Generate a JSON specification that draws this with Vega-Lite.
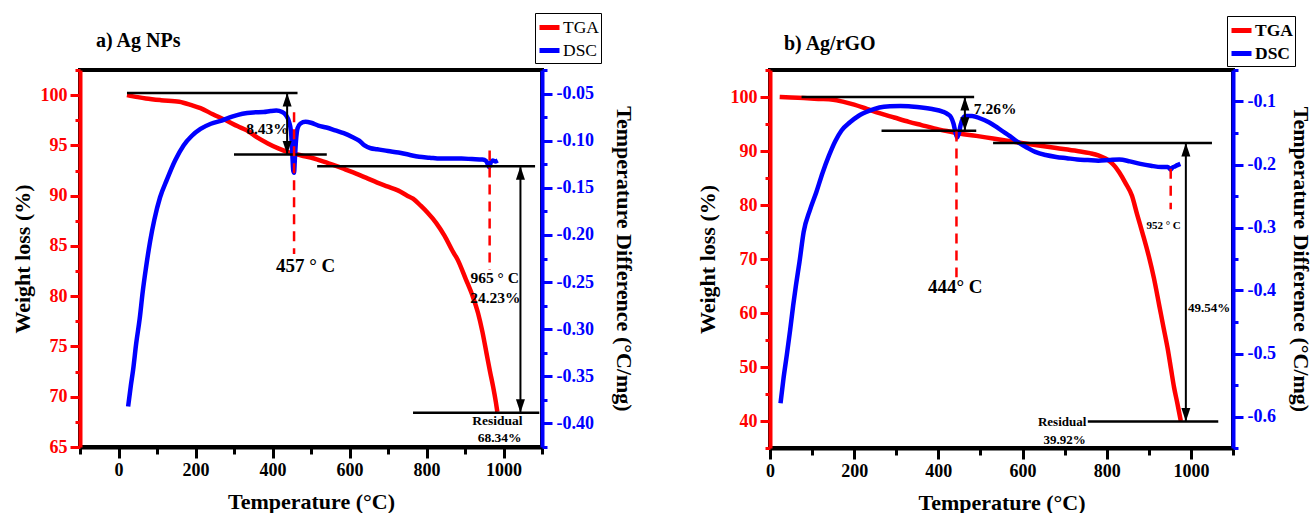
{
  "$schema": "https://vega.github.io/schema/vega-lite/v6.json",
  "padding": {"left": 9, "top": 10, "right": 0, "bottom": 5},
  "background": "white",
  "datasets": {
    "tga_a": [
      {"t":22,"w":100},{"t":50,"w":99.8},{"t":71,"w":99.67},{"t":110,"w":99.5},{"t":158,"w":99.35},{"t":190,"w":99.0},{"t":213,"w":98.7},{"t":245,"w":98.1},{"t":279,"w":97.5},{"t":310,"w":96.9},{"t":333,"w":96.5},{"t":360,"w":95.8},{"t":388,"w":95.2},{"t":415,"w":94.7},{"t":443,"w":94.3},{"t":475,"w":94.0},{"t":508,"w":93.7},{"t":535,"w":93.35},{"t":563,"w":93.0},{"t":590,"w":92.6},{"t":617,"w":92.2},{"t":645,"w":91.75},{"t":672,"w":91.3},{"t":700,"w":90.9},{"t":727,"w":90.5},{"t":750,"w":90.0},{"t":765,"w":89.7},{"t":785,"w":89.0},{"t":803,"w":88.3},{"t":825,"w":87.3},{"t":847,"w":86.0},{"t":869,"w":84.4},{"t":880,"w":83.7},{"t":902,"w":81.7},{"t":920,"w":80.0},{"t":934,"w":78.3},{"t":945,"w":76.5},{"t":956,"w":74.3},{"t":965,"w":72.5},{"t":973,"w":71.0},{"t":980,"w":69.5},{"t":984,"w":68.5}
    ],
    "dsc_a": [
      {"t":25,"d":-0.382},{"t":32,"d":-0.36},{"t":38,"d":-0.343},{"t":46,"d":-0.315},{"t":55,"d":-0.289},{"t":63,"d":-0.26},{"t":71,"d":-0.236},{"t":82,"d":-0.207},{"t":93,"d":-0.184},{"t":108,"d":-0.16},{"t":126,"d":-0.141},{"t":147,"d":-0.121},{"t":169,"d":-0.105},{"t":190,"d":-0.095},{"t":213,"d":-0.0875},{"t":240,"d":-0.082},{"t":268,"d":-0.0786},{"t":295,"d":-0.0745},{"t":322,"d":-0.0714},{"t":350,"d":-0.070},{"t":377,"d":-0.0696},{"t":395,"d":-0.0685},{"t":410,"d":-0.068},{"t":425,"d":-0.0695},{"t":435,"d":-0.073},{"t":443,"d":-0.080},{"t":448,"d":-0.090},{"t":451,"d":-0.110},{"t":454,"d":-0.132},{"t":456,"d":-0.134},{"t":458,"d":-0.120},{"t":461,"d":-0.100},{"t":465,"d":-0.087},{"t":472,"d":-0.082},{"t":486,"d":-0.080},{"t":500,"d":-0.081},{"t":519,"d":-0.084},{"t":540,"d":-0.086},{"t":563,"d":-0.089},{"t":585,"d":-0.092},{"t":607,"d":-0.096},{"t":625,"d":-0.100},{"t":639,"d":-0.105},{"t":655,"d":-0.108},{"t":672,"d":-0.109},{"t":700,"d":-0.111},{"t":727,"d":-0.1125},{"t":755,"d":-0.115},{"t":781,"d":-0.117},{"t":808,"d":-0.118},{"t":836,"d":-0.119},{"t":863,"d":-0.119},{"t":891,"d":-0.119},{"t":918,"d":-0.1195},{"t":945,"d":-0.120},{"t":955,"d":-0.1215},{"t":960,"d":-0.126},{"t":963,"d":-0.128},{"t":967,"d":-0.123},{"t":972,"d":-0.121},{"t":978,"d":-0.122},{"t":985,"d":-0.121}
    ],
    "hl_a": [{"t1":22,"t2":465,"w":100.2},{"t1":300,"t2":541,"w":94.1},{"t1":516,"t2":1082,"w":92.93},{"t1":765,"t2":1093,"w":68.4}],
    "arr_a": [{"t":438,"top":100.2,"bottom":94.1},{"t":1044,"top":92.93,"bottom":68.4}],
    "dash_a": [{"t":456,"top":98.3,"bottom":84.2},{"t":964,"top":94.5,"bottom":82.6}],
    "txt_a": [
      {"t":486,"w":83.0,"label":"457 ° C","kind":"big"},
      {"t":387,"w":96.6,"label":"8.43%","kind":"mid"},
      {"t":977,"w":81.8,"label":"965 ° C","kind":"mid"},
      {"t":979,"w":79.8,"label":"24.23%","kind":"mid"},
      {"t":984,"w":67.6,"label":"Residual","kind":"small"},
      {"t":990,"w":65.9,"label":"68.34%","kind":"small"}
    ],
    "tga_b": [
      {"t":23,"w":100},{"t":50,"w":99.9},{"t":80,"w":99.8},{"t":115,"w":99.65},{"t":150,"w":99.5},{"t":175,"w":99.1},{"t":200,"w":98.6},{"t":230,"w":97.8},{"t":260,"w":97.0},{"t":295,"w":96.2},{"t":330,"w":95.4},{"t":360,"w":94.8},{"t":390,"w":94.2},{"t":420,"w":93.7},{"t":450,"w":93.25},{"t":490,"w":92.8},{"t":530,"w":92.3},{"t":580,"w":91.7},{"t":630,"w":91.1},{"t":680,"w":90.55},{"t":730,"w":90.0},{"t":760,"w":89.6},{"t":780,"w":89.2},{"t":797,"w":88.6},{"t":810,"w":87.9},{"t":820,"w":87.1},{"t":830,"w":86.0},{"t":845,"w":84.0},{"t":860,"w":81.7},{"t":872,"w":78.3},{"t":885,"w":74.8},{"t":900,"w":70.5},{"t":912,"w":66.5},{"t":925,"w":61.3},{"t":935,"w":57.3},{"t":945,"w":53.3},{"t":953,"w":49.5},{"t":960,"w":46.2},{"t":968,"w":43.2},{"t":976,"w":40.0}
    ],
    "dsc_b": [
      {"t":25,"d":-0.579},{"t":32,"d":-0.54},{"t":40,"d":-0.502},{"t":48,"d":-0.462},{"t":55,"d":-0.424},{"t":62,"d":-0.39},{"t":70,"d":-0.355},{"t":80,"d":-0.307},{"t":95,"d":-0.272},{"t":110,"d":-0.244},{"t":125,"d":-0.213},{"t":140,"d":-0.186},{"t":155,"d":-0.163},{"t":170,"d":-0.146},{"t":190,"d":-0.133},{"t":210,"d":-0.123},{"t":235,"d":-0.115},{"t":260,"d":-0.1095},{"t":285,"d":-0.1075},{"t":310,"d":-0.107},{"t":335,"d":-0.108},{"t":360,"d":-0.1095},{"t":385,"d":-0.112},{"t":410,"d":-0.116},{"t":422,"d":-0.120},{"t":430,"d":-0.125},{"t":436,"d":-0.135},{"t":441,"d":-0.150},{"t":445,"d":-0.157},{"t":449,"d":-0.150},{"t":453,"d":-0.137},{"t":458,"d":-0.127},{"t":465,"d":-0.123},{"t":480,"d":-0.123},{"t":500,"d":-0.127},{"t":520,"d":-0.133},{"t":535,"d":-0.139},{"t":550,"d":-0.146},{"t":570,"d":-0.155},{"t":590,"d":-0.165},{"t":610,"d":-0.173},{"t":630,"d":-0.18},{"t":655,"d":-0.185},{"t":680,"d":-0.188},{"t":705,"d":-0.190},{"t":730,"d":-0.192},{"t":755,"d":-0.193},{"t":780,"d":-0.194},{"t":805,"d":-0.193},{"t":830,"d":-0.192},{"t":855,"d":-0.195},{"t":880,"d":-0.199},{"t":905,"d":-0.202},{"t":930,"d":-0.204},{"t":945,"d":-0.204},{"t":949,"d":-0.206},{"t":952,"d":-0.208},{"t":956,"d":-0.205},{"t":962,"d":-0.203},{"t":968,"d":-0.201},{"t":975,"d":-0.199}
    ],
    "hl_b": [{"t1":75,"t2":485,"w":100.0},{"t1":265,"t2":490,"w":93.75},{"t1":530,"t2":1050,"w":91.5},{"t1":755,"t2":1065,"w":39.92}],
    "arr_b": [{"t":463,"top":100.0,"bottom":93.75},{"t":988,"top":91.5,"bottom":39.92}],
    "dash_b": [{"t":443,"top":93.6,"bottom":66.6},{"t":952,"top":86.7,"bottom":79.2}],
    "txt_b": [
      {"t":535,"w":97.8,"label":"7.26%","kind":"mid"},
      {"t":440,"w":64.9,"label":"444° C","kind":"big"},
      {"t":935,"w":76.2,"label":"952 ° C","kind":"tiny"},
      {"t":1043,"w":61.0,"label":"49.54%","kind":"small"},
      {"t":694,"w":39.8,"label":"Residual","kind":"small"},
      {"t":700,"w":36.4,"label":"39.92%","kind":"small"}
    ]
  },
  "hconcat": [
    {
      "width": 462,
      "height": 377,
      "title": {"text": "a) Ag NPs", "anchor": "start", "frame": "group", "dx": 16, "dy": 72, "offset": 18, "baseline": "alphabetic", "font": "Liberation Serif", "fontSize": 20, "fontWeight": "bold", "color": "black"},
      "layer": [
        {
          "data": {"name": "tga_a"},
          "mark": {"type": "line", "strokeWidth": 4.5, "interpolate": "monotone"},
          "encoding": {
            "x": {"field": "t", "type": "quantitative", "scale": {"domain": [-100, 1100], "nice": false, "zero": false},
                  "axis": {"title": "Temperature (°C)", "values": [-100,0,100,200,300,400,500,600,700,800,900,1000,1100], "labelExpr": "datum.value >= 0 && datum.value <= 1000 && datum.value % 200 == 0 ? '' + datum.value : ''", "tickSize": {"condition": {"test": "datum.value % 200 == 0", "value": 11}, "value": 7}}},
            "y": {"field": "w", "type": "quantitative", "scale": {"domain": [65, 102.5], "nice": false, "zero": false},
                  "axis": {"orient": "left", "title": "Weight loss (%)", "values": [65,67.5,70,72.5,75,77.5,80,82.5,85,87.5,90,92.5,95,97.5,100,102.5], "labelExpr": "datum.value % 5 == 0 ? datum.label : ''", "tickSize": {"condition": {"test": "datum.value % 5 == 0", "value": 10}, "value": 5}}},
            "color": {"datum": "TGA", "type": "nominal", "scale": {"domain": ["TGA", "DSC"], "range": ["#ff0000", "#0000ff"]},
                      "legend": {"orient": "none", "legendX": 455, "legendY": -57, "title": null, "strokeColor": "black", "fillColor": "white", "padding": 2, "symbolType": "stroke", "symbolStrokeWidth": 5, "symbolSize": 400, "labelFont": "Liberation Serif", "labelFontSize": 17.5, "labelFontWeight": "normal", "labelColor": "black", "labelOffset": 1, "rowPadding": 0}}
          }
        },
        {
          "data": {"name": "dsc_a"},
          "mark": {"type": "line", "strokeWidth": 4.5, "interpolate": "monotone"},
          "encoding": {
            "x": {"field": "t", "type": "quantitative", "scale": {"domain": [-100, 1100], "nice": false, "zero": false},
                  "axis": {"title": "Temperature (°C)", "values": [-100,0,100,200,300,400,500,600,700,800,900,1000,1100], "labelExpr": "datum.value >= 0 && datum.value <= 1000 && datum.value % 200 == 0 ? '' + datum.value : ''", "tickSize": {"condition": {"test": "datum.value % 200 == 0", "value": 11}, "value": 7}}},
            "y": {"field": "d", "type": "quantitative", "scale": {"domain": [-0.425, -0.025], "nice": false, "zero": false},
                  "axis": {"orient": "right", "title": "Temperature Difference (°C/mg)", "values": [-0.425,-0.4,-0.375,-0.35,-0.325,-0.3,-0.275,-0.25,-0.225,-0.2,-0.175,-0.15,-0.125,-0.1,-0.075,-0.05,-0.025], "labelExpr": "abs(round(datum.value*1000)) % 50 == 0 ? replace(format(datum.value, '.2f'), '\u2212', '-') : ''", "tickSize": {"condition": {"test": "abs(round(datum.value*1000)) % 50 == 0", "value": 10}, "value": 5}}},
            "color": {"datum": "DSC", "type": "nominal"}
          }
        },
        {
          "layer": [
            {
              "data": {"name": "hl_a"},
              "mark": {"type": "rule", "color": "black", "strokeWidth": 2.5},
              "encoding": {
                "x": {"field": "t1", "type": "quantitative", "scale": {"domain": [-100, 1100], "nice": false, "zero": false},
                      "axis": {"title": "Temperature (°C)", "values": [-100,0,100,200,300,400,500,600,700,800,900,1000,1100], "labelExpr": "datum.value >= 0 && datum.value <= 1000 && datum.value % 200 == 0 ? '' + datum.value : ''", "tickSize": {"condition": {"test": "datum.value % 200 == 0", "value": 11}, "value": 7}}},
                "x2": {"field": "t2"},
                "y": {"field": "w", "type": "quantitative", "scale": {"domain": [65, 102.5], "nice": false, "zero": false}, "axis": null}
              }
            },
            {
              "data": {"name": "dash_a"},
              "mark": {"type": "rule", "color": "#ff0000", "strokeWidth": 2.5, "strokeDash": [10, 7]},
              "encoding": {
                "x": {"field": "t", "type": "quantitative", "scale": {"domain": [-100, 1100], "nice": false, "zero": false},
                      "axis": {"title": "Temperature (°C)", "values": [-100,0,100,200,300,400,500,600,700,800,900,1000,1100], "labelExpr": "datum.value >= 0 && datum.value <= 1000 && datum.value % 200 == 0 ? '' + datum.value : ''", "tickSize": {"condition": {"test": "datum.value % 200 == 0", "value": 11}, "value": 7}}},
                "y": {"field": "top", "type": "quantitative", "scale": {"domain": [65, 102.5], "nice": false, "zero": false}, "axis": null},
                "y2": {"field": "bottom"}
              }
            },
            {
              "data": {"name": "arr_a"},
              "mark": {"type": "rule", "color": "black", "strokeWidth": 2},
              "encoding": {
                "x": {"field": "t", "type": "quantitative", "scale": {"domain": [-100, 1100], "nice": false, "zero": false},
                      "axis": {"title": "Temperature (°C)", "values": [-100,0,100,200,300,400,500,600,700,800,900,1000,1100], "labelExpr": "datum.value >= 0 && datum.value <= 1000 && datum.value % 200 == 0 ? '' + datum.value : ''", "tickSize": {"condition": {"test": "datum.value % 200 == 0", "value": 11}, "value": 7}}},
                "y": {"field": "top", "type": "quantitative", "scale": {"domain": [65, 102.5], "nice": false, "zero": false}, "axis": null},
                "y2": {"field": "bottom"}
              }
            },
            {
              "data": {"name": "arr_a"},
              "mark": {"type": "point", "shape": "M0,0L-1,3L1,3Z", "filled": true, "color": "black", "opacity": 1, "size": 81},
              "encoding": {
                "x": {"field": "t", "type": "quantitative", "scale": {"domain": [-100, 1100], "nice": false, "zero": false},
                      "axis": {"title": "Temperature (°C)", "values": [-100,0,100,200,300,400,500,600,700,800,900,1000,1100], "labelExpr": "datum.value >= 0 && datum.value <= 1000 && datum.value % 200 == 0 ? '' + datum.value : ''", "tickSize": {"condition": {"test": "datum.value % 200 == 0", "value": 11}, "value": 7}}},
                "y": {"field": "top", "type": "quantitative", "scale": {"domain": [65, 102.5], "nice": false, "zero": false}, "axis": null}
              }
            },
            {
              "data": {"name": "arr_a"},
              "mark": {"type": "point", "shape": "M0,0L-1,-3L1,-3Z", "filled": true, "color": "black", "opacity": 1, "size": 81},
              "encoding": {
                "x": {"field": "t", "type": "quantitative", "scale": {"domain": [-100, 1100], "nice": false, "zero": false},
                      "axis": {"title": "Temperature (°C)", "values": [-100,0,100,200,300,400,500,600,700,800,900,1000,1100], "labelExpr": "datum.value >= 0 && datum.value <= 1000 && datum.value % 200 == 0 ? '' + datum.value : ''", "tickSize": {"condition": {"test": "datum.value % 200 == 0", "value": 11}, "value": 7}}},
                "y": {"field": "bottom", "type": "quantitative", "scale": {"domain": [65, 102.5], "nice": false, "zero": false}, "axis": null}
              }
            },
            {
              "data": {"name": "txt_a"},
              "transform": [{"filter": "datum.kind == 'big'"}],
              "mark": {"type": "text", "font": "Liberation Serif", "fontWeight": "bold", "fontSize": 19, "color": "black", "baseline": "middle"},
              "encoding": {
                "x": {"field": "t", "type": "quantitative", "scale": {"domain": [-100, 1100], "nice": false, "zero": false},
                      "axis": {"title": "Temperature (°C)", "values": [-100,0,100,200,300,400,500,600,700,800,900,1000,1100], "labelExpr": "datum.value >= 0 && datum.value <= 1000 && datum.value % 200 == 0 ? '' + datum.value : ''", "tickSize": {"condition": {"test": "datum.value % 200 == 0", "value": 11}, "value": 7}}},
                "y": {"field": "w", "type": "quantitative", "scale": {"domain": [65, 102.5], "nice": false, "zero": false}, "axis": null},
                "text": {"field": "label"}
              }
            },
            {
              "data": {"name": "txt_a"},
              "transform": [{"filter": "datum.kind == 'mid'"}],
              "mark": {"type": "text", "font": "Liberation Serif", "fontWeight": "bold", "fontSize": 15.5, "color": "black", "baseline": "middle"},
              "encoding": {
                "x": {"field": "t", "type": "quantitative", "scale": {"domain": [-100, 1100], "nice": false, "zero": false},
                      "axis": {"title": "Temperature (°C)", "values": [-100,0,100,200,300,400,500,600,700,800,900,1000,1100], "labelExpr": "datum.value >= 0 && datum.value <= 1000 && datum.value % 200 == 0 ? '' + datum.value : ''", "tickSize": {"condition": {"test": "datum.value % 200 == 0", "value": 11}, "value": 7}}},
                "y": {"field": "w", "type": "quantitative", "scale": {"domain": [65, 102.5], "nice": false, "zero": false}, "axis": null},
                "text": {"field": "label"}
              }
            },
            {
              "data": {"name": "txt_a"},
              "transform": [{"filter": "datum.kind == 'small'"}],
              "mark": {"type": "text", "font": "Liberation Serif", "fontWeight": "bold", "fontSize": 13.5, "color": "black", "baseline": "middle"},
              "encoding": {
                "x": {"field": "t", "type": "quantitative", "scale": {"domain": [-100, 1100], "nice": false, "zero": false},
                      "axis": {"title": "Temperature (°C)", "values": [-100,0,100,200,300,400,500,600,700,800,900,1000,1100], "labelExpr": "datum.value >= 0 && datum.value <= 1000 && datum.value % 200 == 0 ? '' + datum.value : ''", "tickSize": {"condition": {"test": "datum.value % 200 == 0", "value": 11}, "value": 7}}},
                "y": {"field": "w", "type": "quantitative", "scale": {"domain": [65, 102.5], "nice": false, "zero": false}, "axis": null},
                "text": {"field": "label"}
              }
            }
          ]
        }
      ],
      "resolve": {"scale": {"y": "independent"}}
    },
    {
      "width": 463,
      "height": 378,
      "title": {"text": "b) Ag/rGO", "anchor": "start", "frame": "group", "dx": 14, "dy": 72, "offset": 18, "baseline": "alphabetic", "font": "Liberation Serif", "fontSize": 20, "fontWeight": "bold", "color": "black"},
      "layer": [
        {
          "data": {"name": "tga_b"},
          "mark": {"type": "line", "strokeWidth": 4.5, "interpolate": "monotone"},
          "encoding": {
            "x": {"field": "t", "type": "quantitative", "scale": {"domain": [0, 1100], "nice": false, "zero": false},
                  "axis": {"title": "Temperature (°C)", "values": [0,100,200,300,400,500,600,700,800,900,1000,1100], "labelExpr": "datum.value <= 1000 && datum.value % 200 == 0 ? '' + datum.value : ''", "tickSize": {"condition": {"test": "datum.value % 200 == 0", "value": 11}, "value": 7}}},
            "y": {"field": "w", "type": "quantitative", "scale": {"domain": [35, 105], "nice": false, "zero": false},
                  "axis": {"orient": "left", "title": "Weight loss (%)", "titlePadding": 11, "values": [35,40,45,50,55,60,65,70,75,80,85,90,95,100,105], "labelExpr": "datum.value % 10 == 0 ? datum.label : ''", "tickSize": {"condition": {"test": "datum.value % 10 == 0", "value": 10}, "value": 5}}},
            "color": {"datum": "TGA", "type": "nominal", "scale": {"domain": ["TGA", "DSC"], "range": ["#ff0000", "#0000ff"]},
                      "legend": {"orient": "none", "legendX": 457, "legendY": -54, "title": null, "strokeColor": "black", "fillColor": "white", "padding": 2, "symbolType": "stroke", "symbolStrokeWidth": 5, "symbolSize": 400, "labelFont": "Liberation Serif", "labelFontSize": 17.5, "labelFontWeight": "bold", "labelColor": "black", "labelOffset": 1, "rowPadding": 0}}
          }
        },
        {
          "data": {"name": "dsc_b"},
          "mark": {"type": "line", "strokeWidth": 4.5, "interpolate": "monotone"},
          "encoding": {
            "x": {"field": "t", "type": "quantitative", "scale": {"domain": [0, 1100], "nice": false, "zero": false},
                  "axis": {"title": "Temperature (°C)", "values": [0,100,200,300,400,500,600,700,800,900,1000,1100], "labelExpr": "datum.value <= 1000 && datum.value % 200 == 0 ? '' + datum.value : ''", "tickSize": {"condition": {"test": "datum.value % 200 == 0", "value": 11}, "value": 7}}},
            "y": {"field": "d", "type": "quantitative", "scale": {"domain": [-0.65, -0.05], "nice": false, "zero": false},
                  "axis": {"orient": "right", "title": "Temperature Difference (°C/mg)", "titlePadding": 13, "values": [-0.65,-0.6,-0.55,-0.5,-0.45,-0.4,-0.35,-0.3,-0.25,-0.2,-0.15,-0.1,-0.05], "labelExpr": "abs(round(datum.value*100)) % 10 == 0 ? replace(format(datum.value, '.1f'), '\u2212', '-') : ''", "tickSize": {"condition": {"test": "abs(round(datum.value*100)) % 10 == 0", "value": 10}, "value": 5}}},
            "color": {"datum": "DSC", "type": "nominal"}
          }
        },
        {
          "layer": [
            {
              "data": {"name": "hl_b"},
              "mark": {"type": "rule", "color": "black", "strokeWidth": 2.5},
              "encoding": {
                "x": {"field": "t1", "type": "quantitative", "scale": {"domain": [0, 1100], "nice": false, "zero": false},
                      "axis": {"title": "Temperature (°C)", "values": [0,100,200,300,400,500,600,700,800,900,1000,1100], "labelExpr": "datum.value <= 1000 && datum.value % 200 == 0 ? '' + datum.value : ''", "tickSize": {"condition": {"test": "datum.value % 200 == 0", "value": 11}, "value": 7}}},
                "x2": {"field": "t2"},
                "y": {"field": "w", "type": "quantitative", "scale": {"domain": [35, 105], "nice": false, "zero": false}, "axis": null}
              }
            },
            {
              "data": {"name": "dash_b"},
              "mark": {"type": "rule", "color": "#ff0000", "strokeWidth": 2.5, "strokeDash": [10, 7]},
              "encoding": {
                "x": {"field": "t", "type": "quantitative", "scale": {"domain": [0, 1100], "nice": false, "zero": false},
                      "axis": {"title": "Temperature (°C)", "values": [0,100,200,300,400,500,600,700,800,900,1000,1100], "labelExpr": "datum.value <= 1000 && datum.value % 200 == 0 ? '' + datum.value : ''", "tickSize": {"condition": {"test": "datum.value % 200 == 0", "value": 11}, "value": 7}}},
                "y": {"field": "top", "type": "quantitative", "scale": {"domain": [35, 105], "nice": false, "zero": false}, "axis": null},
                "y2": {"field": "bottom"}
              }
            },
            {
              "data": {"name": "arr_b"},
              "mark": {"type": "rule", "color": "black", "strokeWidth": 2},
              "encoding": {
                "x": {"field": "t", "type": "quantitative", "scale": {"domain": [0, 1100], "nice": false, "zero": false},
                      "axis": {"title": "Temperature (°C)", "values": [0,100,200,300,400,500,600,700,800,900,1000,1100], "labelExpr": "datum.value <= 1000 && datum.value % 200 == 0 ? '' + datum.value : ''", "tickSize": {"condition": {"test": "datum.value % 200 == 0", "value": 11}, "value": 7}}},
                "y": {"field": "top", "type": "quantitative", "scale": {"domain": [35, 105], "nice": false, "zero": false}, "axis": null},
                "y2": {"field": "bottom"}
              }
            },
            {
              "data": {"name": "arr_b"},
              "mark": {"type": "point", "shape": "M0,0L-1,3L1,3Z", "filled": true, "color": "black", "opacity": 1, "size": 81},
              "encoding": {
                "x": {"field": "t", "type": "quantitative", "scale": {"domain": [0, 1100], "nice": false, "zero": false},
                      "axis": {"title": "Temperature (°C)", "values": [0,100,200,300,400,500,600,700,800,900,1000,1100], "labelExpr": "datum.value <= 1000 && datum.value % 200 == 0 ? '' + datum.value : ''", "tickSize": {"condition": {"test": "datum.value % 200 == 0", "value": 11}, "value": 7}}},
                "y": {"field": "top", "type": "quantitative", "scale": {"domain": [35, 105], "nice": false, "zero": false}, "axis": null}
              }
            },
            {
              "data": {"name": "arr_b"},
              "mark": {"type": "point", "shape": "M0,0L-1,-3L1,-3Z", "filled": true, "color": "black", "opacity": 1, "size": 81},
              "encoding": {
                "x": {"field": "t", "type": "quantitative", "scale": {"domain": [0, 1100], "nice": false, "zero": false},
                      "axis": {"title": "Temperature (°C)", "values": [0,100,200,300,400,500,600,700,800,900,1000,1100], "labelExpr": "datum.value <= 1000 && datum.value % 200 == 0 ? '' + datum.value : ''", "tickSize": {"condition": {"test": "datum.value % 200 == 0", "value": 11}, "value": 7}}},
                "y": {"field": "bottom", "type": "quantitative", "scale": {"domain": [35, 105], "nice": false, "zero": false}, "axis": null}
              }
            },
            {
              "data": {"name": "txt_b"},
              "transform": [{"filter": "datum.kind == 'big'"}],
              "mark": {"type": "text", "font": "Liberation Serif", "fontWeight": "bold", "fontSize": 19, "color": "black", "baseline": "middle"},
              "encoding": {
                "x": {"field": "t", "type": "quantitative", "scale": {"domain": [0, 1100], "nice": false, "zero": false},
                      "axis": {"title": "Temperature (°C)", "values": [0,100,200,300,400,500,600,700,800,900,1000,1100], "labelExpr": "datum.value <= 1000 && datum.value % 200 == 0 ? '' + datum.value : ''", "tickSize": {"condition": {"test": "datum.value % 200 == 0", "value": 11}, "value": 7}}},
                "y": {"field": "w", "type": "quantitative", "scale": {"domain": [35, 105], "nice": false, "zero": false}, "axis": null},
                "text": {"field": "label"}
              }
            },
            {
              "data": {"name": "txt_b"},
              "transform": [{"filter": "datum.kind == 'mid'"}],
              "mark": {"type": "text", "font": "Liberation Serif", "fontWeight": "bold", "fontSize": 15.5, "color": "black", "baseline": "middle"},
              "encoding": {
                "x": {"field": "t", "type": "quantitative", "scale": {"domain": [0, 1100], "nice": false, "zero": false},
                      "axis": {"title": "Temperature (°C)", "values": [0,100,200,300,400,500,600,700,800,900,1000,1100], "labelExpr": "datum.value <= 1000 && datum.value % 200 == 0 ? '' + datum.value : ''", "tickSize": {"condition": {"test": "datum.value % 200 == 0", "value": 11}, "value": 7}}},
                "y": {"field": "w", "type": "quantitative", "scale": {"domain": [35, 105], "nice": false, "zero": false}, "axis": null},
                "text": {"field": "label"}
              }
            },
            {
              "data": {"name": "txt_b"},
              "transform": [{"filter": "datum.kind == 'small'"}],
              "mark": {"type": "text", "font": "Liberation Serif", "fontWeight": "bold", "fontSize": 13, "color": "black", "baseline": "middle"},
              "encoding": {
                "x": {"field": "t", "type": "quantitative", "scale": {"domain": [0, 1100], "nice": false, "zero": false},
                      "axis": {"title": "Temperature (°C)", "values": [0,100,200,300,400,500,600,700,800,900,1000,1100], "labelExpr": "datum.value <= 1000 && datum.value % 200 == 0 ? '' + datum.value : ''", "tickSize": {"condition": {"test": "datum.value % 200 == 0", "value": 11}, "value": 7}}},
                "y": {"field": "w", "type": "quantitative", "scale": {"domain": [35, 105], "nice": false, "zero": false}, "axis": null},
                "text": {"field": "label"}
              }
            },
            {
              "data": {"name": "txt_b"},
              "transform": [{"filter": "datum.kind == 'tiny'"}],
              "mark": {"type": "text", "font": "Liberation Serif", "fontWeight": "bold", "fontSize": 11, "color": "black", "baseline": "middle"},
              "encoding": {
                "x": {"field": "t", "type": "quantitative", "scale": {"domain": [0, 1100], "nice": false, "zero": false},
                      "axis": {"title": "Temperature (°C)", "values": [0,100,200,300,400,500,600,700,800,900,1000,1100], "labelExpr": "datum.value <= 1000 && datum.value % 200 == 0 ? '' + datum.value : ''", "tickSize": {"condition": {"test": "datum.value % 200 == 0", "value": 11}, "value": 7}}},
                "y": {"field": "w", "type": "quantitative", "scale": {"domain": [35, 105], "nice": false, "zero": false}, "axis": null},
                "text": {"field": "label"}
              }
            }
          ]
        }
      ],
      "resolve": {"scale": {"y": "independent"}}
    }
  ],
  "spacing": 57,
  "resolve": {"scale": {"color": "independent", "x": "independent", "y": "independent"}, "legend": {"color": "independent"}},
  "config": {
    "view": {"stroke": "black", "strokeWidth": 4},
    "axis": {"labelFont": "Liberation Serif", "labelFontWeight": "bold", "labelFontSize": 18, "titleFont": "Liberation Serif", "titleFontWeight": "bold", "titleFontSize": 22, "titleColor": "black", "grid": false, "domainWidth": 4, "tickWidth": 3, "zindex": 1, "labelOverlap": false, "labelFlush": false, "labelBound": false},
    "axisLeft": {"domainColor": "#ff0000", "tickColor": "#ff0000", "labelColor": "#ff0000", "labelPadding": 3, "titlePadding": 6},
    "axisRight": {"domainColor": "#0000ff", "tickColor": "#0000ff", "labelColor": "#0000ff", "labelPadding": 4, "titlePadding": 18},
    "axisBottom": {"domainColor": "black", "tickColor": "black", "labelColor": "black", "labelPadding": 3, "titlePadding": 12}
  }
}
